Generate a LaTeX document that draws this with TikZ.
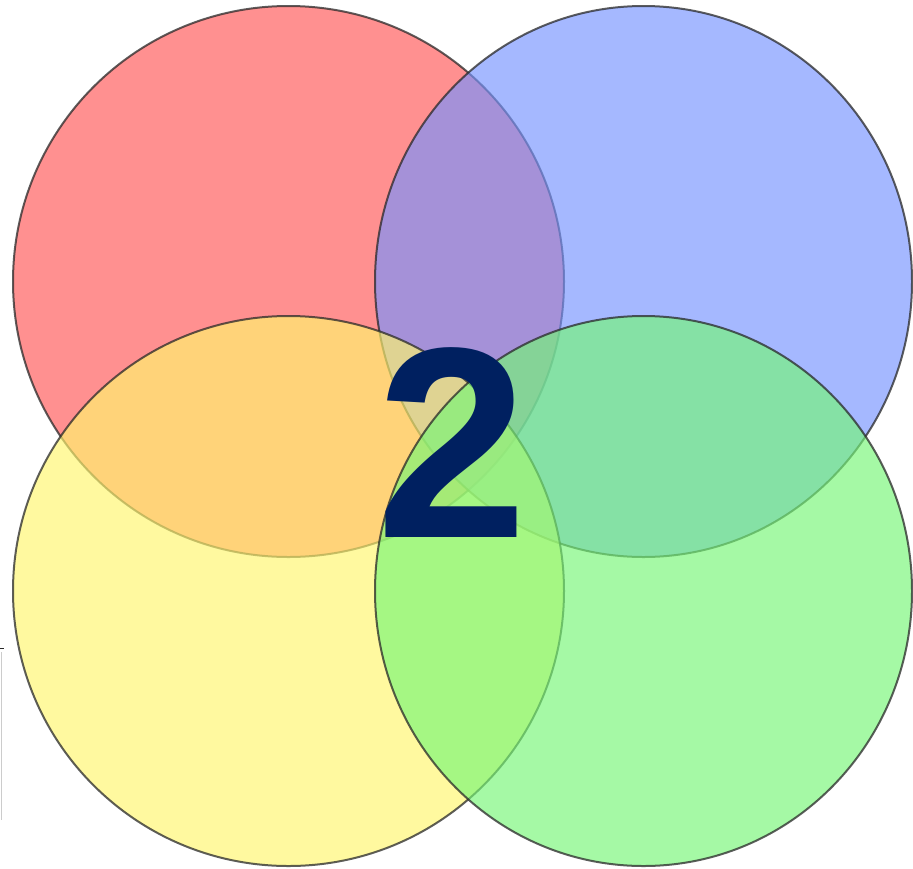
\documentclass[tikz,border=0pt]{standalone}
\usepackage{fontspec}
\setmainfont{Liberation Sans}
\definecolor{cred}{RGB}{255,86,86}
\definecolor{cblue}{RGB}{117,147,255}
\definecolor{cyellow}{RGB}{255,247,109}
\definecolor{cgreen}{RGB}{117,247,117}
\definecolor{navy}{RGB}{0,32,96}
\definecolor{edge}{RGB}{40,40,40}
\tikzset{
  venn/.style={draw=edge, draw opacity=0.75, line width=2pt, fill opacity=0.65},
  numlabel/.style={text=navy, inner sep=0pt, anchor=base, font=\bfseries\fontsize{272}{272}\selectfont}
}
\begin{document}
\begin{tikzpicture}[x=1pt,y=-1pt]
\useasboundingbox (0,0) rectangle (913,868);
\fill[white] (0,0) rectangle (913,868);
\path[venn, fill=cred] (288.5,281.5) ellipse [x radius=275.5, y radius=275.5];
\path[venn, fill=cblue] (643.5,281.5) ellipse [x radius=268.5, y radius=275.5];
\path[venn, fill=cyellow] (288.5,591) ellipse [x radius=275.5, y radius=275];
\path[venn, fill=cgreen] (643.5,591) ellipse [x radius=268.5, y radius=275];
\node[numlabel] (two) at (452,537) {2};
\coordinate (a1) at (0,648);
\coordinate (a2) at (4,648);
\draw[edge, line width=0.8pt] (a1) -- (a2);
\coordinate (b1) at (1,652);
\coordinate (b2) at (1,820);
\draw[gray!40, line width=0.8pt] (b1) -- (b2);
\end{tikzpicture}
\end{document}
